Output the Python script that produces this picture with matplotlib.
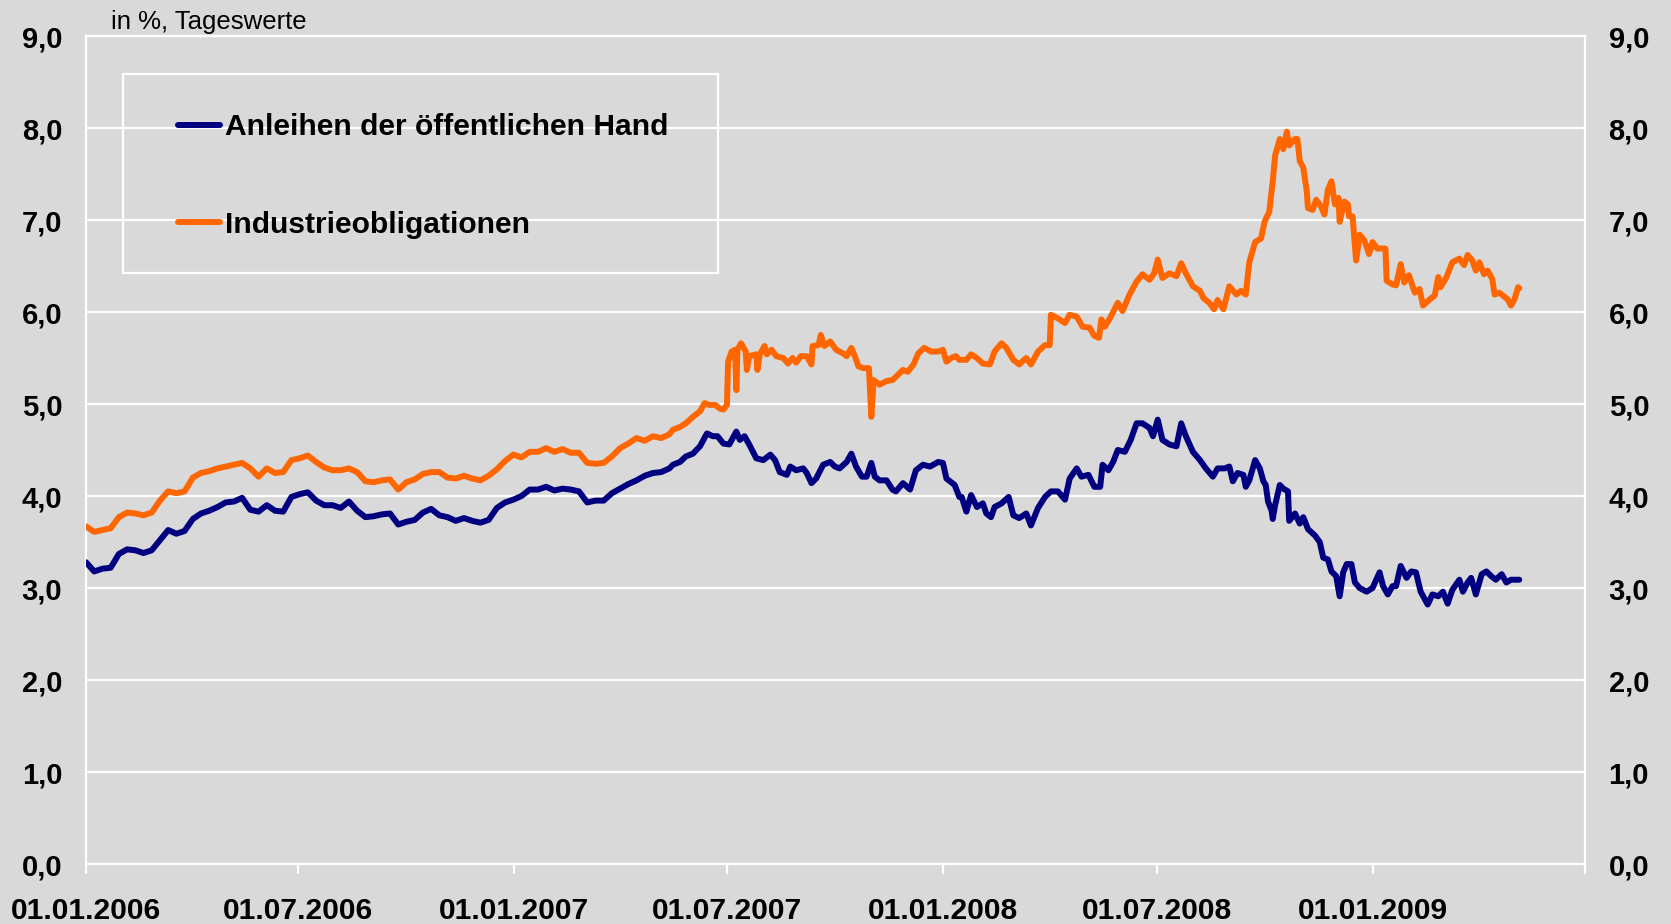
import matplotlib
matplotlib.use("Agg")
import matplotlib.pyplot as plt
from matplotlib.patches import Rectangle
from matplotlib.ticker import FuncFormatter
import pandas as pd

# days since 01.01.2006, values in %
gov_days = [0, 7, 14, 21, 28, 35, 42, 49, 56, 63, 70, 77, 84, 91, 98, 105, 112, 119, 126, 133,
            140, 147, 154, 161, 168, 175, 182, 189, 196, 203, 210, 217, 224, 231, 238, 245,
            252, 259, 266, 273, 280, 287, 294, 301, 308, 315, 322, 329, 336, 343, 350, 357,
            364, 371, 378, 385, 392, 399, 406, 413, 420, 427, 434, 441, 448, 455, 462, 469,
            476, 483, 490, 497,
            500, 506, 511, 517, 523, 529, 534, 538, 543, 548, 554, 557, 561, 565, 571, 577,
            583, 587, 591, 597, 600, 605, 611, 614, 618, 622, 628, 634, 638, 642, 648, 652,
            656, 661, 665, 669, 672, 676, 682, 687, 690, 696, 702, 707, 713, 719, 726, 730,
            733, 740, 744,
            746, 750, 754, 759, 764, 767, 771, 774, 780, 786, 790, 795, 801, 805, 811, 817,
            822, 828, 834, 838, 844, 848, 854, 859, 864, 866, 871, 875, 879, 885, 890, 895,
            900, 906, 909, 913, 917, 923, 929, 933, 937, 943, 949, 954, 960, 964, 970, 974,
            977, 981, 986, 988, 991, 996, 1000, 1003, 1005, 1007, 1010, 1011, 1013, 1017,
            1020, 1024, 1025, 1030, 1034, 1037, 1041, 1047, 1051, 1054, 1058, 1061, 1065,
            1068, 1071, 1074, 1078, 1081, 1085, 1091, 1096, 1102, 1105, 1109, 1113, 1116,
            1120, 1125, 1129, 1133, 1137, 1143, 1147, 1152, 1156, 1160, 1164, 1170, 1173,
            1177, 1180, 1184, 1189, 1193, 1197, 1201, 1206, 1210, 1214, 1218, 1221]
gov_vals = [3.28, 3.18, 3.21, 3.22, 3.37, 3.42, 3.41, 3.38, 3.41, 3.52, 3.63, 3.59, 3.62, 3.75,
            3.81, 3.84, 3.88, 3.93, 3.94, 3.98, 3.85, 3.83, 3.90, 3.84, 3.83, 3.99, 4.02, 4.04,
            3.95, 3.90, 3.90, 3.87, 3.94, 3.84, 3.77, 3.78,
            3.80, 3.81, 3.69, 3.72, 3.74, 3.82, 3.86, 3.79, 3.77, 3.73, 3.76, 3.73, 3.71, 3.74,
            3.87, 3.93, 3.96, 4.00, 4.07, 4.07, 4.10, 4.06, 4.08, 4.07, 4.05, 3.93, 3.95, 3.95,
            4.03, 4.08, 4.13, 4.17, 4.22, 4.25, 4.26, 4.30,
            4.34, 4.37, 4.43, 4.46, 4.54, 4.68, 4.65, 4.65, 4.57, 4.56, 4.70, 4.61, 4.65, 4.56,
            4.41, 4.39, 4.45, 4.39, 4.26, 4.23, 4.32, 4.28, 4.30, 4.25, 4.14, 4.19, 4.34, 4.37,
            4.32, 4.30, 4.37, 4.46, 4.32, 4.21, 4.21, 4.36, 4.21, 4.17, 4.17, 4.07, 4.05, 4.14,
            4.07, 4.28, 4.34, 4.32, 4.37, 4.36, 4.19, 4.12, 3.99,
            3.99, 3.83, 4.01, 3.88, 3.92, 3.81, 3.77, 3.88, 3.92, 3.99, 3.79, 3.76, 3.81, 3.68,
            3.87, 3.99, 4.05, 4.05, 3.96, 4.19, 4.30, 4.21, 4.23, 4.10, 4.10, 4.34, 4.28, 4.37,
            4.50, 4.48, 4.61, 4.79, 4.79, 4.74, 4.65, 4.83, 4.61, 4.56, 4.54, 4.79, 4.65, 4.48,
            4.39, 4.30, 4.21, 4.30, 4.30, 4.32,
            4.16, 4.25, 4.23, 4.10, 4.17, 4.39, 4.30, 4.16, 4.12, 3.94, 3.84, 3.75, 3.90, 4.12,
            4.08, 4.05, 3.73, 3.81, 3.70, 3.77, 3.64, 3.57, 3.50, 3.33, 3.31, 3.18, 3.13, 2.91,
            3.17, 3.26, 3.26, 3.06, 3.00, 2.96, 3.00, 3.17, 3.02, 2.93, 3.02, 3.02, 3.24, 3.11,
            3.18, 3.17, 2.96, 2.82, 2.93, 2.91, 2.96, 2.83, 2.98, 3.09, 2.96, 3.06, 3.11, 2.93,
            3.15, 3.18, 3.13, 3.09, 3.15, 3.06, 3.09, 3.09, 3.09]

ind_days = [0, 7, 14, 21, 28, 35, 42, 49, 56, 63, 70, 77, 84, 91, 98, 105, 112, 119, 126, 133,
            140, 147, 154, 161, 168, 175, 182, 189, 196, 203, 210, 217, 224, 231, 238, 245,
            252, 259, 266, 273, 280, 287, 294, 301, 308, 315, 322, 329, 336, 343, 350, 357,
            364, 371, 378, 385, 392, 399, 406, 413, 420, 427, 434, 441, 448, 455, 462, 469,
            476, 483, 490, 497,
            500, 506, 511, 517, 523, 527, 531, 536, 540, 543, 546, 547, 550, 553, 554, 555,
            558, 562, 563, 565, 571, 572, 574, 578, 580, 584, 588, 594, 598, 602, 605, 609,
            614, 618, 619, 624, 626, 629, 634, 639, 645, 648, 652, 655, 658, 662, 667, 669,
            671, 676, 682, 687, 692, 696, 700, 705, 709, 714, 720, 726, 730, 733, 737, 741,
            744,
            750, 754, 759, 764, 770, 774, 780, 784, 790, 795, 801, 805, 811, 817, 821, 822,
            828, 834, 838, 844, 849, 855, 859, 863, 865, 868, 873, 879, 883, 889, 895, 900,
            906, 910, 913, 917, 923, 929, 933, 937, 943, 949, 952, 957, 961, 964, 969, 974,
            980, 984, 988, 991, 996, 1001, 1004, 1008, 1011, 1013, 1017, 1020, 1023, 1025,
            1030, 1032, 1034, 1037, 1040, 1041, 1045, 1048, 1052, 1055, 1058, 1061, 1064,
            1067, 1068, 1072, 1075, 1076, 1079, 1082, 1085, 1089, 1093, 1096, 1100, 1105,
            1107, 1108, 1113, 1116, 1120, 1123, 1127, 1132, 1136, 1139, 1145, 1149, 1152,
            1154, 1159, 1164, 1170, 1174, 1177, 1181, 1184, 1187, 1191, 1194, 1198, 1200,
            1204, 1207, 1211, 1214, 1217, 1220, 1221]
ind_vals = [3.67, 3.61, 3.63, 3.65, 3.77, 3.82, 3.81, 3.79, 3.82, 3.95, 4.05, 4.03, 4.05, 4.20,
            4.25, 4.27, 4.30, 4.32, 4.34, 4.36, 4.30, 4.21, 4.30, 4.25, 4.26, 4.39, 4.41, 4.44,
            4.37, 4.31, 4.28, 4.28, 4.30, 4.26, 4.16, 4.15,
            4.17, 4.18, 4.07, 4.15, 4.18, 4.24, 4.26, 4.26, 4.20, 4.19, 4.22, 4.19, 4.17, 4.22,
            4.29, 4.38, 4.45, 4.42, 4.48, 4.48, 4.52, 4.48, 4.51, 4.47, 4.47, 4.36, 4.35, 4.36,
            4.43, 4.52, 4.57, 4.63, 4.60, 4.65, 4.63, 4.67,
            4.72, 4.75, 4.79, 4.86, 4.92, 5.01, 4.99, 4.99, 4.95, 4.94, 4.99, 5.46, 5.57, 5.59,
            5.15, 5.59, 5.66, 5.57, 5.37, 5.52, 5.54, 5.37, 5.54, 5.63, 5.54, 5.59, 5.52, 5.50,
            5.44, 5.50, 5.45, 5.52, 5.52, 5.43, 5.63, 5.64, 5.75, 5.63, 5.68, 5.59, 5.55, 5.52,
            5.61, 5.52, 5.41, 5.39, 5.39, 4.86, 5.26, 5.21, 5.25, 5.26, 5.32, 5.37, 5.35, 5.43,
            5.55, 5.61, 5.57, 5.57, 5.59, 5.46, 5.50, 5.52, 5.48,
            5.48, 5.54, 5.50, 5.44, 5.43, 5.57, 5.66, 5.61, 5.48, 5.43, 5.50, 5.43, 5.57, 5.64,
            5.64, 5.97, 5.93, 5.88, 5.97, 5.95, 5.84, 5.83, 5.74, 5.72, 5.92, 5.84, 5.95, 6.10,
            6.01, 6.19, 6.33, 6.41, 6.35, 6.42, 6.57, 6.37, 6.42, 6.39, 6.53, 6.42, 6.28, 6.23,
            6.15, 6.10, 6.03, 6.13, 6.03, 6.28,
            6.19, 6.23, 6.19, 6.54, 6.76, 6.80, 6.98, 7.09, 7.42, 7.70, 7.88, 7.77, 7.96, 7.81,
            7.88, 7.88, 7.64, 7.57, 7.31, 7.13, 7.11, 7.22, 7.15, 7.06, 7.33, 7.42, 7.17, 7.24,
            6.98, 7.20, 7.17, 7.04, 7.04, 6.56, 6.84, 6.78, 6.63, 6.76, 6.69, 6.69, 6.69, 6.34,
            6.30, 6.29, 6.52, 6.32, 6.40, 6.21, 6.25, 6.07, 6.14, 6.18, 6.38, 6.27, 6.38, 6.54,
            6.58, 6.51, 6.62, 6.56, 6.45, 6.54, 6.41, 6.45, 6.36, 6.19, 6.21, 6.18, 6.14, 6.07,
            6.14, 6.27, 6.26]

labels = ["Anleihen der öffentlichen Hand", "Industrieobligationen"]
tick_dates = ["2006-01-01", "2006-07-01", "2007-01-01", "2007-07-01",
              "2008-01-01", "2008-07-01", "2009-01-01", "2009-07-01"]

start = pd.Timestamp("2006-01-01")
gov_x = start + pd.to_timedelta(gov_days, unit="D")
ind_x = start + pd.to_timedelta(ind_days, unit="D")

bg = "#d9d9d9"
plt.rcParams["font.family"] = ["Liberation Sans", "DejaVu Sans"]

fig = plt.figure(figsize=(16.71, 9.24), dpi=100, facecolor=bg)
ax = fig.add_axes([86 / 1671, 1 - 864 / 924, 1499 / 1671, 828 / 924])
ax.set_facecolor(bg)

ax.plot(gov_x, gov_vals, color="#000080", lw=4.3, solid_joinstyle="round",
        solid_capstyle="round", label=labels[0], zorder=3)
ax.plot(ind_x, ind_vals, color="#ff6600", lw=4.3, solid_joinstyle="round",
        solid_capstyle="round", label=labels[1], zorder=3)

ax.set_xlim(pd.Timestamp("2006-01-01"), pd.Timestamp("2009-07-01"))
ax.set_ylim(0, 9)
ax.set_yticks(range(0, 10))
comma = FuncFormatter(lambda v, p: f"{v:.1f}".replace(".", ","))
ax.yaxis.set_major_formatter(comma)
ax.grid(axis="y", color="white", lw=1.6, zorder=1)
ax.set_axisbelow(True)

ticks = pd.to_datetime(tick_dates)
ax.set_xticks(ticks)
ax.set_xticklabels([d.strftime("%d.%m.%Y") if d.year < 2009 or d.month == 1 else ""
                    for d in ticks])

for s in ax.spines.values():
    s.set_color("white")
    s.set_linewidth(1.6)

ax.tick_params(axis="x", colors="white", length=7, width=1.6, pad=17,
               labelcolor="black", labelsize=21.6)
ax.tick_params(axis="y", length=0, pad=17, labelsize=21)
for t in ax.get_xticklabels() + ax.get_yticklabels():
    t.set_fontweight("bold")

ax2 = ax.twinx()
ax2.set_ylim(0, 9)
ax2.set_yticks(range(0, 10))
ax2.yaxis.set_major_formatter(comma)
ax2.tick_params(axis="y", length=0, pad=17, labelsize=21)
for t in ax2.get_yticklabels():
    t.set_fontweight("bold")
for s in ax2.spines.values():
    s.set_visible(False)

# legend box
ax.add_patch(Rectangle((0.0247, 0.714), 0.3969, 0.240, transform=ax.transAxes,
                       fill=False, edgecolor="white", lw=1.6, zorder=4))
leg = ax.legend(loc="upper left", bbox_to_anchor=(0.0614, 0.907), frameon=False,
                borderpad=0, borderaxespad=0, handlelength=1.4, handletextpad=0.17,
                labelspacing=2.33, prop={"weight": "bold", "size": 21.6})
leg.set_zorder(5)

fig.text(111 / 1671, 1 - 29.3 / 924, "in %, Tageswerte", fontsize=18.5,
         ha="left", va="baseline")

fig.savefig("out.png", dpi=100, facecolor=bg)
